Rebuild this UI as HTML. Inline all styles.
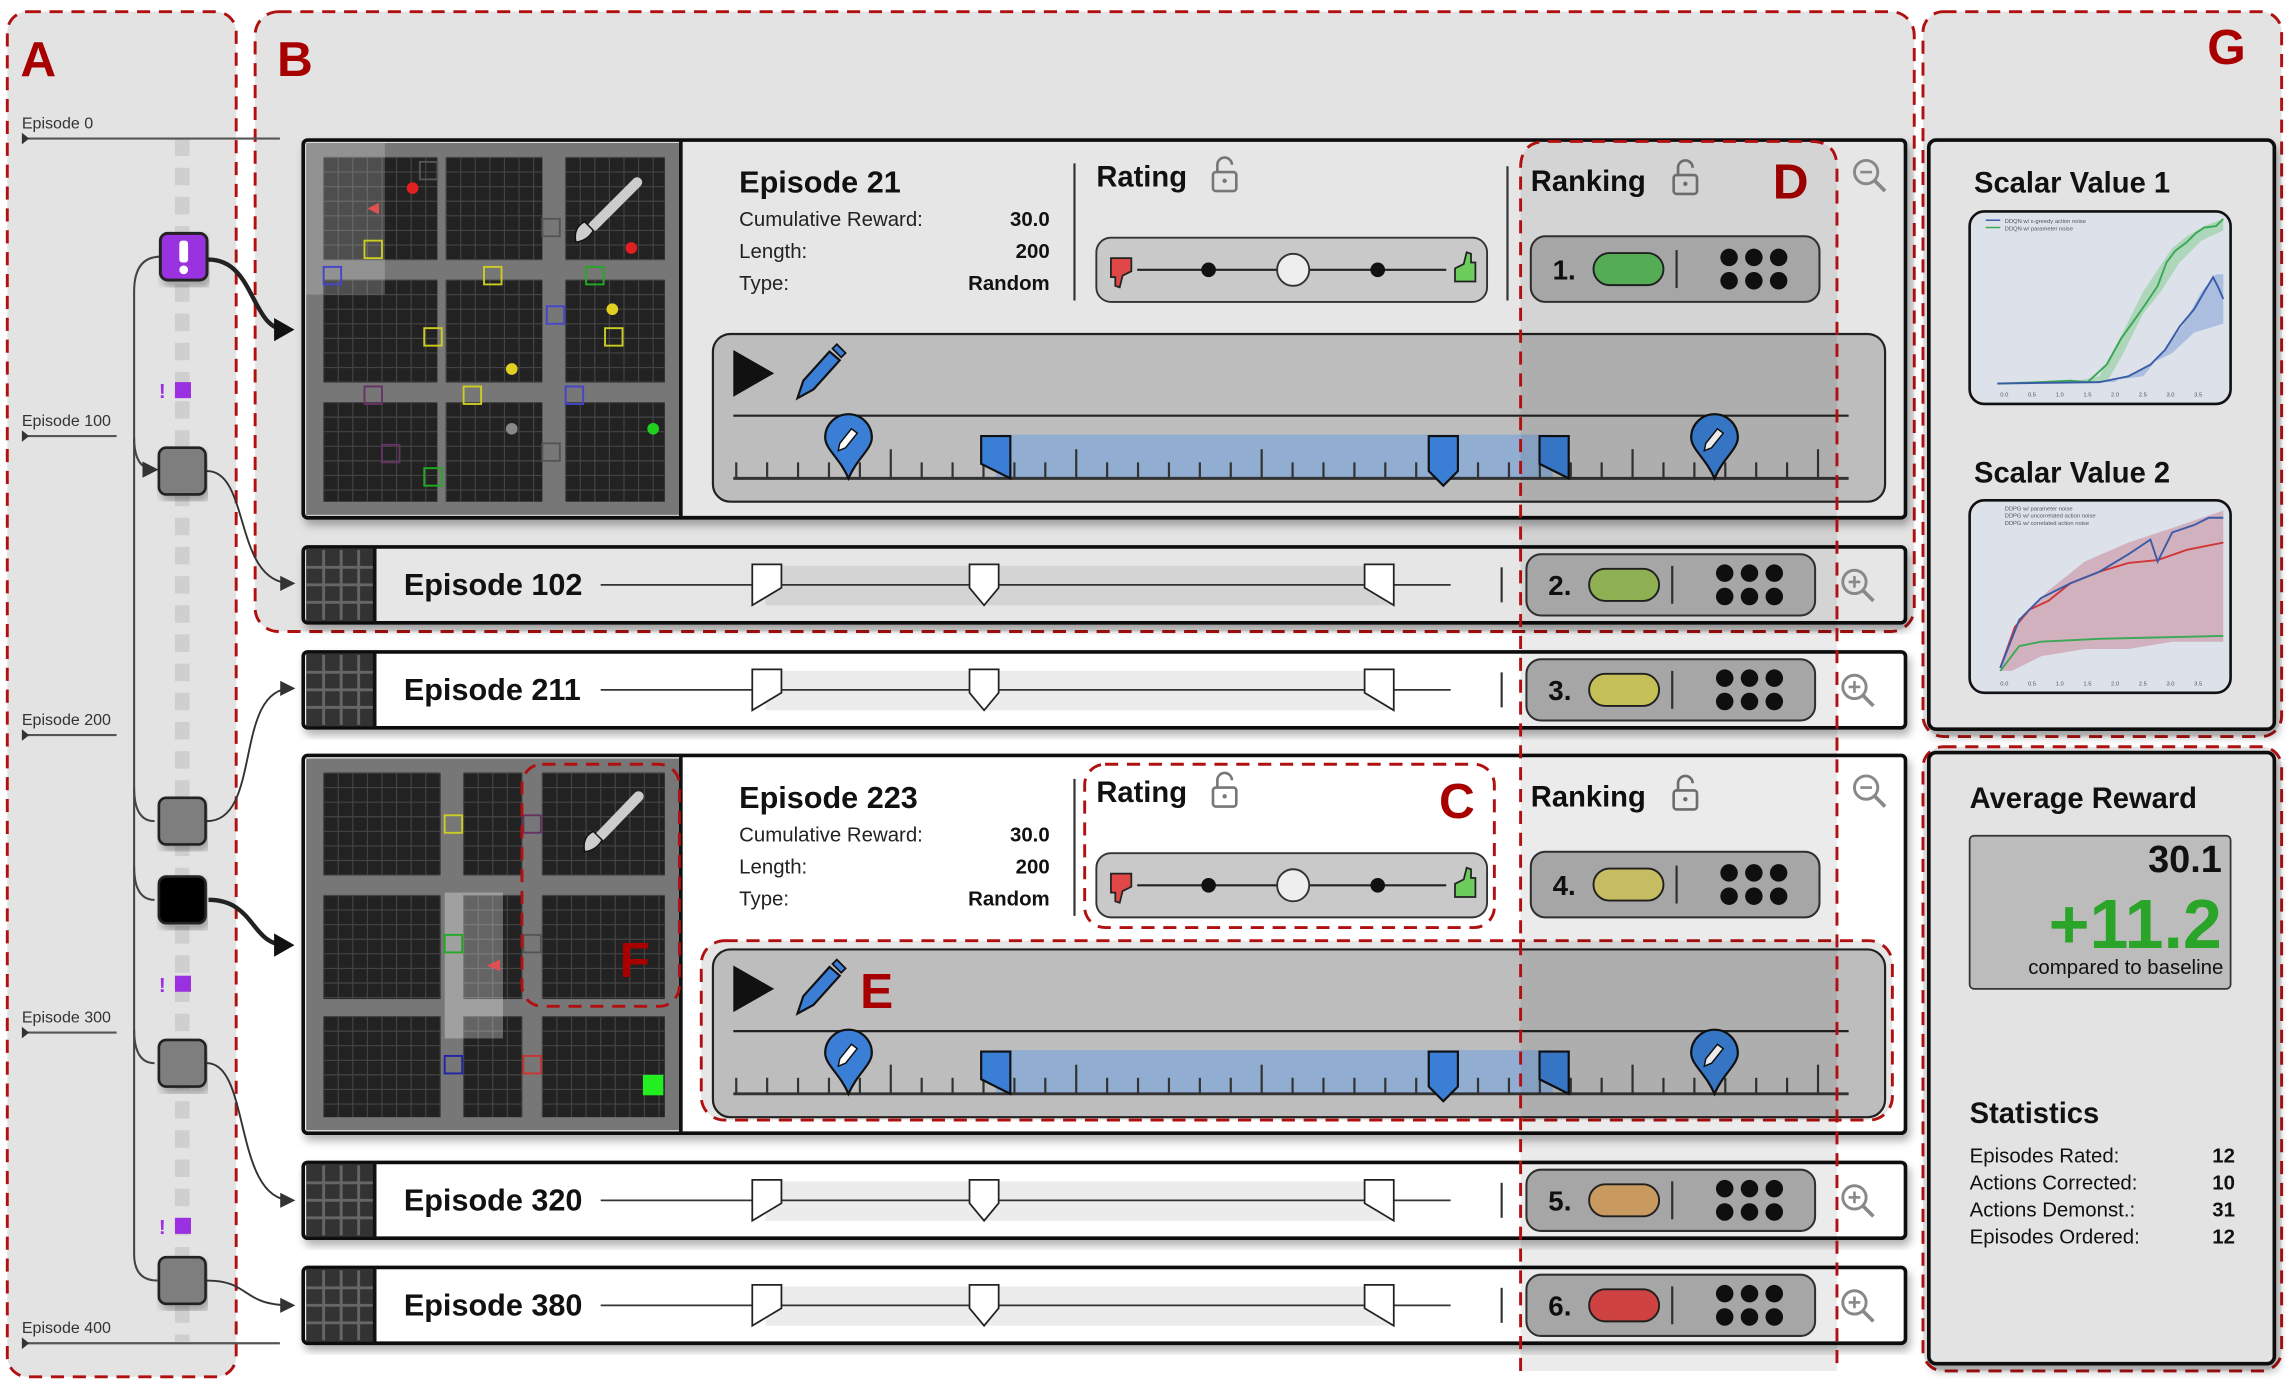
<!DOCTYPE html>
<html><head><meta charset="utf-8"><style>
html,body{margin:0;padding:0;background:#fff;}
svg{display:block;font-family:"Liberation Sans",sans-serif;}
</style></head><body>
<svg id="s" width="2286" height="1387" viewBox="0 0 1568 951" preserveAspectRatio="none" xmlns="http://www.w3.org/2000/svg">
<defs>
<marker id="ah" markerWidth="8" markerHeight="8" refX="6" refY="4" orient="auto"><path d="M0,0 L8,4 L0,8 z" fill="#333"/></marker>
<marker id="ahb" markerWidth="6" markerHeight="6" refX="3" refY="3" orient="auto"><path d="M0,0 L6,3 L0,6 z" fill="#111"/></marker>
<filter id="sh" x="-5%" y="-5%" width="110%" height="120%"><feDropShadow dx="2" dy="4" stdDeviation="3" flood-opacity="0.3"/></filter>
</defs>
<rect width="1568" height="951" fill="#fff"/>
<!-- panels -->
<rect x="5" y="8" width="157" height="936" rx="14" fill="#e3e3e3" stroke="#b01010" stroke-width="2" stroke-dasharray="9,6"/>
<rect x="175" y="8" width="1138" height="425" rx="16" fill="#e3e3e3" stroke="#b01010" stroke-width="2" stroke-dasharray="9,6"/>
<rect x="1319" y="8" width="246" height="497" rx="14" fill="#e3e3e3" stroke="#b01010" stroke-width="2" stroke-dasharray="9,6"/>
<rect x="1319" y="512" width="246" height="428" rx="14" fill="#e3e3e3" stroke="#b01010" stroke-width="2" stroke-dasharray="9,6"/>
<g font-weight="bold" fill="#a80000" font-size="34">
<text x="14" y="52">A</text><text x="190" y="52">B</text><text x="1514" y="44">G</text><text x="1506" y="735">H</text>
</g>
<g id="main"></g>
</svg>
<script>
const NS="http://www.w3.org/2000/svg";
const g=document.getElementById('main');
let H='';
function card(y,h,fill){H+=`<rect x="208" y="${y}" width="1099" height="${h}" rx="3" fill="${fill}" stroke="#111" stroke-width="2.5" filter="url(#sh)"/>`;}
function grid(x1,x2,y1,y2){H+=`<rect x="${x1}" y="${y1}" width="${x2-x1}" height="${y2-y1}" fill="#222"/>`;
 for(let x=x1;x<=x2;x+=10)H+=`<line x1="${x}" y1="${y1}" x2="${x}" y2="${y2}" stroke="#444" stroke-width="0.8"/>`;
 for(let y=y1;y<=y2;y+=10)H+=`<line x1="${x1}" y1="${y}" x2="${x2}" y2="${y}" stroke="#444" stroke-width="0.8"/>`;}
function map(y0,cols,rows){H+=`<rect x="210" y="${y0}" width="257" height="${rows.h}" fill="#777"/>`;
 for(const c of cols)for(const r of rows.r)grid(c[0],c[1],r[0],r[1]);}
function ticks(y,x1,x2){H+=`<line x1="503" y1="${y}" x2="1268" y2="${y}" stroke="#333" stroke-width="2"/>`;
 let i=0;for(let x=505;x<=1268;x+=21.2,i++){let l=(i%6==5)?20:11;H+=`<line x1="${x}" y1="${y-l}" x2="${x}" y2="${y}" stroke="#333" stroke-width="1.5"/>`;}}
function pin(x,yb){H+=`<path d="M${x},${yb} C${x-6},${yb-14} ${x-16},${yb-20} ${x-16},${yb-28} A16,16 0 1 1 ${x+16},${yb-28} C${x+16},${yb-20} ${x+6},${yb-14} ${x},${yb} z" fill="#3a7fd5" stroke="#111" stroke-width="1.5"/><path d="M${x-6},${yb-24} l8,-10 l4,3 l-8,10 l-5,2 z" fill="#fff" stroke="#111" stroke-width="1"/>`;}
function flagL(x,yt,yb){H+=`<path d="M${x},${yt} h20 v${yb-yt} l-20,-10 z" fill="#3a7fd5" stroke="#111" stroke-width="1.5"/>`;}
function flagM(x,yt,yb){H+=`<path d="M${x-10},${yt} h20 v${yb-yt-10} l-10,10 l-10,-10 z" fill="#3a7fd5" stroke="#111" stroke-width="1.5"/>`;}
function flagR(x,yt,yb){H+=`<path d="M${x-10},${yt} h20 v${yb-yt} l-20,-10 z" fill="#3a7fd5" stroke="#111" stroke-width="1.5"/>`;}
function timeline(y){ // y = top of box
 H+=`<rect x="489" y="${y}" width="804" height="115" rx="12" fill="#bdbdbd" stroke="#222" stroke-width="1.5"/>`;
 H+=`<path d="M503,${y+11} L531,${y+27} L503,${y+43} z" fill="#111"/>`;
 H+=`<path d="M547,${y+44} l4,-12 l18,-20 l7,6 l-18,20 z" fill="#3a7fd5" stroke="#111" stroke-width="1.5"/><path d="M571,${y+10} l3,-3 l6,6 l-3,3 z" fill="#3a7fd5" stroke="#111" stroke-width="1.2"/>`;
 H+=`<line x1="503" y1="${y+56}" x2="1268" y2="${y+56}" stroke="#222" stroke-width="1.5"/>`;
 H+=`<rect x="683" y="${y+69}" width="382" height="30" fill="#7fa6dc" opacity="0.7"/>`;
 ticks(y+99);
 pin(582,y+99);pin(1176,y+99);flagL(673,y+70,y+99);flagM(990,y+70,y+104);flagR(1066,y+70,y+99);}
function statsBlock(x,y,title){H+=`<text x="${x}" y="${y}" font-size="21" font-weight="bold" fill="#111">${title}</text>`;
 const L=[["Cumulative Reward:","30.0"],["Length:","200"],["Type:","Random"]];
 L.forEach((r,i)=>{H+=`<text x="${x}" y="${y+23+22*i}" font-size="14" fill="#222">${r[0]}</text><text x="720" y="${y+23+22*i}" font-size="14" font-weight="bold" fill="#111" text-anchor="end">${r[1]}</text>`;});}
function lock(x,y){H+=`<rect x="${x}" y="${y}" width="16" height="13" rx="2" fill="none" stroke="#777" stroke-width="1.8"/><path d="M${x+3},${y} v-5 a5,5 0 0 1 10,0" fill="none" stroke="#777" stroke-width="1.8"/><circle cx="${x+8}" cy="${y+6}" r="1.5" fill="#777"/>`;}
function rating(y){ // y=label baseline
 H+=`<text x="752" y="${y}" font-size="20" font-weight="bold" fill="#111">Rating</text>`;lock(832,y-10);
 H+=`<rect x="752" y="${y+35}" width="268" height="44" rx="10" fill="#c9c9c9" stroke="#333" stroke-width="1.3"/>`;
 const cy=y+57;H+=`<line x1="780" y1="${cy}" x2="992" y2="${cy}" stroke="#222" stroke-width="1.5"/><circle cx="829" cy="${cy}" r="5" fill="#111"/><circle cx="945" cy="${cy}" r="5" fill="#111"/><circle cx="887" cy="${cy}" r="11" fill="#eee" stroke="#333" stroke-width="1.3"/>`;
 H+=`<path d="M762,${cy-8} h14 v9 l-6,3 l-2,8 l-3,-1 v-6 h-3 z" fill="#e04848" stroke="#222" stroke-width="1.2"/>`;
 H+=`<path d="M1012,${cy+8} h-14 v-9 l6,-3 l2,-8 l3,1 v6 h3 z" fill="#6ccc5c" stroke="#222" stroke-width="1.2"/>`;}
function rankBox(x1,y,h,n,col){ H+=`<rect x="${x1}" y="${y}" width="198" height="${h}" rx="10" fill="#b5b5b5" stroke="#333" stroke-width="1.4"/>`;
 const cy=y+h/2;H+=`<text x="${x1+15}" y="${cy+7}" font-size="19" font-weight="bold" fill="#111">${n}.</text><rect x="${x1+43}" y="${cy-11}" width="48" height="22" rx="11" fill="${col}" stroke="#222" stroke-width="1.3"/><line x1="${x1+100}" y1="${cy-13}" x2="${x1+100}" y2="${cy+13}" stroke="#333" stroke-width="1.5"/>`;
 for(let i=0;i<3;i++)for(let j=0;j<2;j++)H+=`<circle cx="${x1+136+i*17}" cy="${cy-8+j*16}" r="6" fill="#111"/>`;}
function zoomIcon(x,y,plus){H+=`<circle cx="${x}" cy="${y}" r="8" fill="none" stroke="#888" stroke-width="2"/><line x1="${x+6}" y1="${y+6}" x2="${x+13}" y2="${y+13}" stroke="#888" stroke-width="2.5"/><line x1="${x-4}" y1="${y}" x2="${x+4}" y2="${y}" stroke="#888" stroke-width="1.8"/>`+(plus?`<line x1="${x}" y1="${y-4}" x2="${x}" y2="${y+4}" stroke="#888" stroke-width="1.8"/>`:'');}
function row(y,fill,label,n,col){card(y,52,fill);
 H+=`<rect x="210" y="${y+1}" width="47" height="50" fill="#333"/>`;
 for(let i=0;i<3;i++){H+=`<line x1="210" y1="${y+14+i*12}" x2="257" y2="${y+14+i*12}" stroke="#666" stroke-width="2"/><line x1="${222+i*12}" y1="${y+2}" x2="${222+i*12}" y2="${y+50}" stroke="#666" stroke-width="2"/>`;}
 H+=`<line x1="257" y1="${y}" x2="257" y2="${y+52}" stroke="#111" stroke-width="2.5"/>`;
 H+=`<text x="277" y="${y+33}" font-size="21" font-weight="bold" fill="#111">${label}</text>`;
 const cy=y+26;H+=`<rect x="525" y="${cy-13}" width="430" height="27" fill="${fill=='#fff'?'#ececec':'#d4d4d4'}"/><line x1="412" y1="${cy}" x2="995" y2="${cy}" stroke="#333" stroke-width="1.2"/>`;
 H+=`<path d="M516,${cy-14} h20 v16 l-20,12 z" fill="#fff" stroke="#222" stroke-width="1.2"/>`;
 H+=`<path d="M665,${cy-14} h20 v16 l-10,12 l-10,-12 z" fill="#fff" stroke="#222" stroke-width="1.2"/>`;
 H+=`<path d="M936,${cy-14} h20 v28 l-20,-12 z" fill="#fff" stroke="#222" stroke-width="1.2"/>`;
 H+=`<line x1="1030" y1="${cy-12}" x2="1030" y2="${cy+12}" stroke="#333" stroke-width="1.5"/>`;
 rankBox(1047,y+5,42,n,col);zoomIcon(1272,cy-2,true);}

// A timeline
H+=`<line x1="125" y1="95" x2="125" y2="920" stroke="#cfcfcf" stroke-width="10" stroke-dasharray="12,8"/>`;
[[88,95,192,"Episode 0"],[292,299,80,"Episode 100"],[497,504,80,"Episode 200"],[701,708,80,"Episode 300"],[914,921,192,"Episode 400"]].forEach(e=>{
 H+=`<text x="15" y="${e[0]}" font-size="11" fill="#333">${e[3]}</text><line x1="17" y1="${e[1]}" x2="${e[2]}" y2="${e[1]}" stroke="#555" stroke-width="1.5"/><path d="M15,${e[1]-4} l5,4 l-5,4 z" fill="#333"/>`;});
H+=`<path d="M110,176 Q92,176 92,200 L92,860 Q92,878 108,878" fill="none" stroke="#444" stroke-width="1.4"/>`;
H+=`<path d="M92,300 Q92,322 106,322" fill="none" stroke="#444" stroke-width="1.4" marker-end="url(#ah)"/>`;
H+=`<path d="M92,540 Q92,563 106,563" fill="none" stroke="#444" stroke-width="1.4"/>`;
H+=`<path d="M92,594 Q92,617 106,617" fill="none" stroke="#444" stroke-width="1.4"/>`;
H+=`<path d="M92,706 Q92,729 106,729" fill="none" stroke="#444" stroke-width="1.4"/>`;
// connectors to cards
H+=`<path d="M143,178 C175,178 172,226 196,226" fill="none" stroke="#222" stroke-width="3"/><path d="M188,218 L202,226 L188,234 z" fill="#111"/>`;
H+=`<path d="M142,323 C172,323 160,400 200,400" fill="none" stroke="#333" stroke-width="1.3" marker-end="url(#ah)"/>`;
H+=`<path d="M142,563 C180,563 160,472 200,472" fill="none" stroke="#333" stroke-width="1.3" marker-end="url(#ah)"/>`;
H+=`<path d="M143,617 C175,617 172,648 196,648" fill="none" stroke="#222" stroke-width="3"/><path d="M188,640 L202,648 L188,656 z" fill="#111"/>`;
H+=`<path d="M142,729 C172,729 160,823 200,823" fill="none" stroke="#333" stroke-width="1.3" marker-end="url(#ah)"/>`;
H+=`<path d="M142,878 C172,878 165,895 200,895" fill="none" stroke="#333" stroke-width="1.3" marker-end="url(#ah)"/>`;
// nodes
H+=`<rect x="110" y="160" width="32" height="32" rx="5" fill="#9b30e0" stroke="#222" stroke-width="2" filter="url(#sh)"/><rect x="123" y="165" width="6" height="15" rx="2" fill="#fff"/><circle cx="126" cy="185" r="3" fill="#fff"/>`;
[307,547,713,862].forEach(y=>{H+=`<rect x="109" y="${y}" width="32" height="32" rx="5" fill="#7e7e7e" stroke="#222" stroke-width="1.8" filter="url(#sh)"/>`;});
H+=`<rect x="109" y="601" width="32" height="32" rx="5" fill="#000" stroke="#222" stroke-width="1.8" filter="url(#sh)"/>`;
[267,674,840].forEach(y=>{H+=`<text x="109" y="${y+6}" font-size="14" font-weight="bold" fill="#9b30e0">!</text><rect x="120" y="${y-5}" width="11" height="11" fill="#9b30e0"/>`;});

// Card 1
card(96,259,"#e6e6e6");
map(98,[[222,300],[306,372],[388,456]],{h:255,r:[[108,178],[192,262],[276,344]]});
H+=`<rect x="210" y="98" width="54" height="104" fill="#fff" opacity="0.2"/>`;
H+=`<line x1="467" y1="96" x2="467" y2="355" stroke="#111" stroke-width="2.5"/>`;
// items map1
H+=`<circle cx="283" cy="129" r="4" fill="#e02020"/><circle cx="433" cy="170" r="4" fill="#e02020"/><circle cx="420" cy="212" r="4" fill="#e0d020"/><circle cx="351" cy="253" r="4" fill="#e0d020"/><circle cx="351" cy="294" r="4" fill="#888"/><circle cx="448" cy="294" r="4" fill="#20d020"/><path d="M260,139 l-8,4 l8,4 z" fill="#e05050"/>`;
[[250,165,'#cc2'],[222,183,'#44c'],[332,183,'#cc2'],[402,183,'#2a2'],[375,210,'#44c'],[291,225,'#cc2'],[415,225,'#cc2'],[250,265,'#636'],[318,265,'#cc2'],[388,265,'#44c'],[262,305,'#636'],[291,321,'#2a2'],[372,150,'#555'],[288,111,'#555'],[372,304,'#555']].forEach(b=>{H+=`<rect x="${b[0]}" y="${b[1]}" width="12" height="12" fill="none" stroke="${b[2]}" stroke-width="1.3"/>`;});
H+=`<line x1="407" y1="155" x2="437" y2="125" stroke="#ccc" stroke-width="7" stroke-linecap="round"/><path d="M401,152 q-8,4 -6,14 q8,-1 12,-8 z" fill="#ccc" stroke="#111" stroke-width="1"/>`;
statsBlock(507,132,"Episode 21");
H+=`<line x1="737" y1="112" x2="737" y2="206" stroke="#333" stroke-width="1.5"/><line x1="1034" y1="114" x2="1034" y2="206" stroke="#333" stroke-width="1.5"/>`;
rating(128);
timeline(229);
H+=`<text x="1050" y="131" font-size="20" font-weight="bold" fill="#111">Ranking</text>`;lock(1148,120);
rankBox(1050,162,45,1,"#5cbb5c");zoomIcon(1280,118,false);
H+=`<text x="1216" y="136" font-size="34" font-weight="bold" fill="#a80000">D</text>`;

row(375,"#e6e6e6","Episode 102",2,"#9bbf5a");
row(447,"#fff","Episode 211",3,"#d6d060");

// Card 2
card(518,259,"#fff");
map(520,[[222,302],[318,358],[372,456]],{h:255,r:[[530,600],[614,685],[697,766]]});
H+=`<rect x="305" y="612" width="40" height="100" fill="#fff" opacity="0.3"/>`;
H+=`<line x1="467" y1="518" x2="467" y2="777" stroke="#111" stroke-width="2.5"/>`;
[[305,559,'#cc2'],[359,559,'#636'],[305,641,'#2a2'],[359,641,'#555'],[305,724,'#22a'],[359,724,'#c33']].forEach(b=>{H+=`<rect x="${b[0]}" y="${b[1]}" width="12" height="12" fill="none" stroke="${b[2]}" stroke-width="1.3"/>`;});
H+=`<rect x="441" y="737" width="14" height="14" fill="#22ee22"/><path d="M343,658 l-9,4 l9,4 z" fill="#e05050"/>`;
H+=`<line x1="412" y1="573" x2="438" y2="546" stroke="#ccc" stroke-width="7" stroke-linecap="round"/><path d="M407,570 q-8,4 -6,14 q8,-1 12,-8 z" fill="#ccc" stroke="#111" stroke-width="1"/>`;
H+=`<rect x="358" y="524" width="108" height="166" rx="14" fill="none" stroke="#b01010" stroke-width="2" stroke-dasharray="9,6"/><text x="425" y="670" font-size="34" font-weight="bold" fill="#a80000">F</text>`;
statsBlock(507,554,"Episode 223");
H+=`<line x1="737" y1="534" x2="737" y2="628" stroke="#333" stroke-width="1.5"/>`;
rating(550);
H+=`<rect x="744" y="524" width="281" height="112" rx="14" fill="none" stroke="#b01010" stroke-width="2" stroke-dasharray="9,6"/><text x="987" y="561" font-size="34" font-weight="bold" fill="#a80000">C</text>`;
H+=`<rect x="481" y="645" width="817" height="123" rx="16" fill="#e6e6e6" stroke="#b01010" stroke-width="2" stroke-dasharray="9,6"/>`;
timeline(651);
H+=`<text x="590" y="691" font-size="34" font-weight="bold" fill="#a80000">E</text>`;
H+=`<text x="1050" y="553" font-size="20" font-weight="bold" fill="#111">Ranking</text>`;lock(1148,542);
rankBox(1050,584,45,4,"#d7cc6a");zoomIcon(1280,540,false);

row(797,"#fff","Episode 320",5,"#d9a868");
row(869,"#fff","Episode 380",6,"#e04848");

// D overlay
H+=`<path d="M1043,940 V115 Q1043,97 1061,97 H1242 Q1260,97 1260,115 V940" fill="#000" fill-opacity="0.08" stroke="#b01010" stroke-width="2" stroke-dasharray="9,6"/>`;

// G panel
H+=`<rect x="1323" y="96" width="237" height="404" rx="5" fill="#e3e3e3" stroke="#111" stroke-width="2.5" filter="url(#sh)"/>`;
H+=`<text x="1354" y="132" font-size="20" font-weight="bold" fill="#111">Scalar Value 1</text><text x="1354" y="331" font-size="20" font-weight="bold" fill="#111">Scalar Value 2</text>`;
function chart(y){H+=`<rect x="1351" y="${y}" width="179" height="132" rx="10" fill="#dde1ea" stroke="#111" stroke-width="1.8"/>`;
 for(let i=0;i<8;i++)H+=`<text x="${1372+i*19}" y="${y+127}" font-size="4" fill="#555">${(i*0.5).toFixed(1)}</text>`;}
chart(145);
H+=`<path d="M1370,263 L1420,262 L1440,258 L1455,230 L1470,200 L1480,185 L1490,170 L1500,162 L1512,155 L1525,150 L1525,158 L1510,165 L1495,180 L1482,200 L1470,215 L1455,245 L1445,262 z" fill="#8fcf9a" opacity="0.6"/>`;
H+=`<polyline points="1370,263 1400,262 1420,261 1432,262 1445,250 1455,232 1465,218 1472,208 1480,196 1486,180 1492,172 1500,166 1506,160 1512,156 1520,155 1525,150" fill="none" stroke="#3aa854" stroke-width="1.3"/>`;
H+=`<path d="M1440,262 L1470,258 L1485,240 L1498,222 L1510,200 L1520,188 L1525,188 L1525,222 L1505,228 L1490,242 L1470,252 L1450,262 z" fill="#8aa6d8" opacity="0.6"/>`;
H+=`<polyline points="1370,263 1440,262 1460,258 1475,250 1485,240 1495,224 1505,212 1512,200 1518,190 1522,198 1525,205" fill="none" stroke="#3a5ca8" stroke-width="1.3"/>`;
H+=`<line x1="1362" y1="151" x2="1372" y2="151" stroke="#3a5ca8"/><line x1="1362" y1="156" x2="1372" y2="156" stroke="#3aa854"/><text x="1375" y="153" font-size="4" fill="#555">DDQN w/ ε-greedy action noise</text><text x="1375" y="158" font-size="4" fill="#555">DDQN w/ parameter noise</text>`;
chart(343);
H+=`<path d="M1372,460 L1385,425 L1405,405 L1430,385 L1460,372 L1490,362 L1525,350 L1525,440 L1490,440 L1460,445 L1430,445 L1400,450 L1380,460 z" fill="#c98a9a" opacity="0.55"/>`;
H+=`<polyline points="1372,458 1382,430 1392,418 1405,412 1420,400 1440,392 1460,386 1480,384 1500,377 1525,372" fill="none" stroke="#d03838" stroke-width="1.3"/>`;
H+=`<polyline points="1372,458 1385,425 1400,410 1420,400 1440,392 1460,380 1475,370 1480,385 1490,365 1505,360 1515,355 1525,355" fill="none" stroke="#3a5ca8" stroke-width="1.3"/>`;
H+=`<polyline points="1372,460 1385,443 1400,440 1440,438 1525,436" fill="none" stroke="#3aa854" stroke-width="1.3"/>`;
H+=`<text x="1375" y="350" font-size="4" fill="#555">DDPG w/ parameter noise</text><text x="1375" y="355" font-size="4" fill="#555">DDPG w/ uncorrelated action noise</text><text x="1375" y="360" font-size="4" fill="#555">DDPG w/ correlated action noise</text>`;

// H panel
H+=`<rect x="1323" y="516" width="237" height="419" rx="5" fill="#e3e3e3" stroke="#111" stroke-width="2.5" filter="url(#sh)"/>`;
H+=`<text x="1351" y="554" font-size="20" font-weight="bold" fill="#111">Average Reward</text>`;
H+=`<rect x="1351" y="573" width="179" height="105" rx="3" fill="#bcbcbc" stroke="#333" stroke-width="1.2"/>`;
H+=`<text x="1524" y="598" font-size="26" font-weight="bold" fill="#111" text-anchor="end">30.1</text>`;
H+=`<text x="1524" y="650" font-size="48" font-weight="bold" fill="#2aa52a" text-anchor="end">+11.2</text>`;
H+=`<text x="1525" y="668" font-size="14" fill="#111" text-anchor="end">compared to baseline</text>`;
H+=`<text x="1351" y="770" font-size="20" font-weight="bold" fill="#111">Statistics</text>`;
[["Episodes Rated:","12"],["Actions Corrected:","10"],["Actions Demonst.:","31"],["Episodes Ordered:","12"]].forEach((r,i)=>{H+=`<text x="1351" y="${797+18.5*i}" font-size="14" fill="#111">${r[0]}</text><text x="1533" y="${797+18.5*i}" font-size="14" font-weight="bold" fill="#111" text-anchor="end">${r[1]}</text>`;});
g.innerHTML=H;
</script>
</body></html>
